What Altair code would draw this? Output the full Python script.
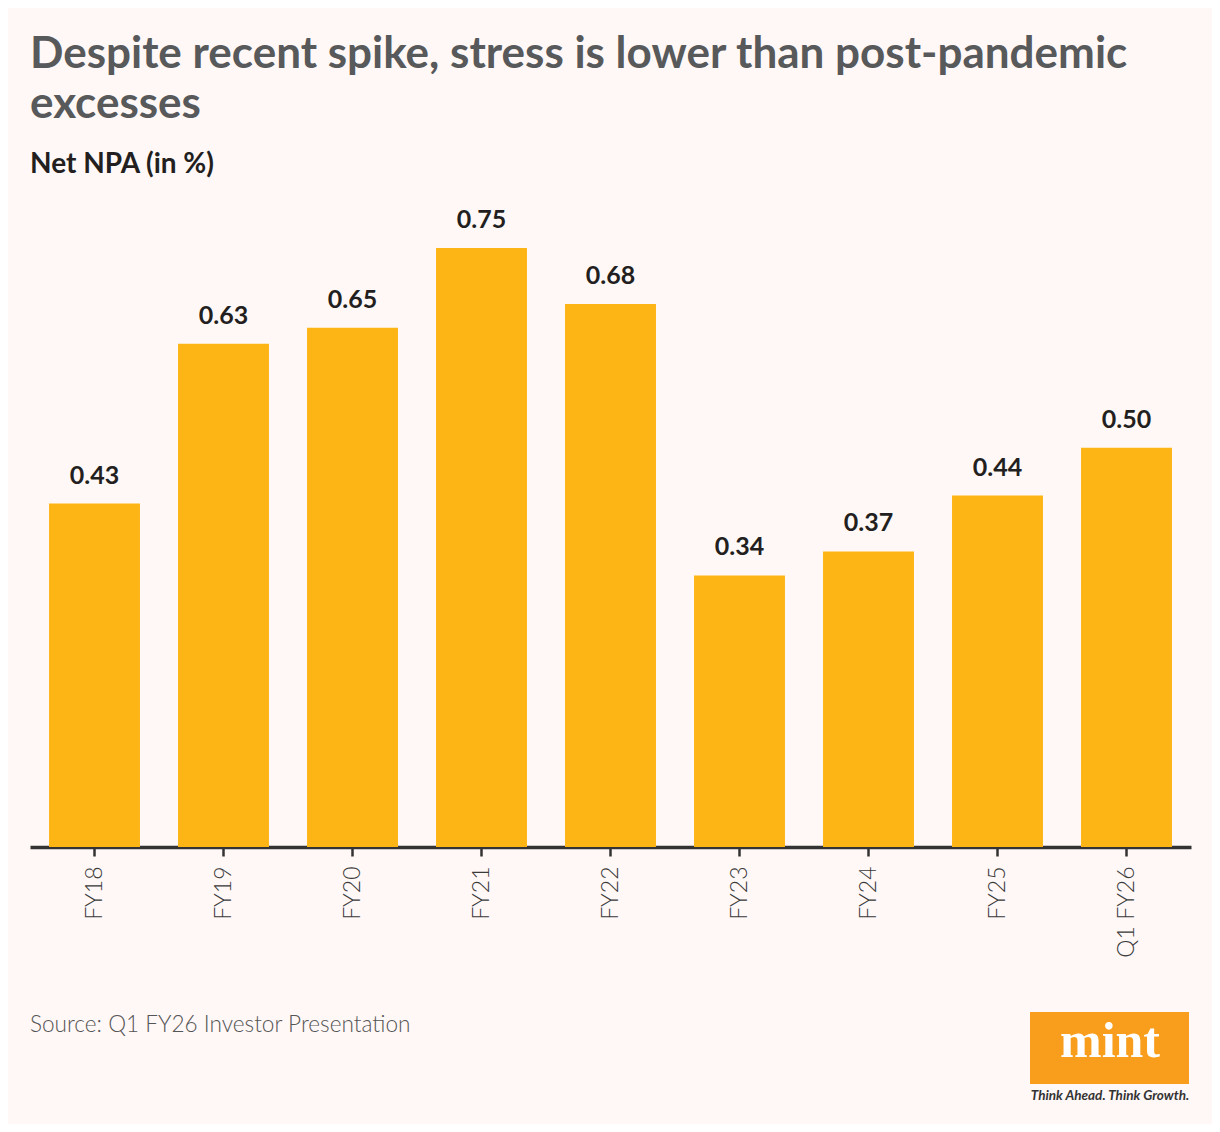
import altair as alt
import pandas as pd

categories = ["FY18", "FY19", "FY20", "FY21", "FY22", "FY23", "FY24", "FY25", "Q1 FY26"]
values = [0.43, 0.63, 0.65, 0.75, 0.68, 0.34, 0.37, 0.44, 0.50]

title_lines = ["Despite recent spike, stress is lower than post-pandemic", "excesses"]
subtitle = "Net NPA (in %)"
source = "Source: Q1 FY26 Investor Presentation"
logo_word = "mint"
logo_tag = "Think Ahead. Think Growth."

df = pd.DataFrame({"period": categories, "value": values})

BG = "#FFF8F7"
BAR = "#FDB515"
FONT = "Lato"

W, H = 1161, 599

xenc = alt.X(
    "period:N",
    sort=categories,
    title=None,
    scale=alt.Scale(paddingInner=0.295, paddingOuter=0.1475),
    axis=alt.Axis(
        labelAngle=270,
        labelAlign="right",
        labelBaseline="middle",
        labelPadding=10,
        labelFontSize=23,
        labelFont=FONT,
        labelFontWeight=300,
        labelColor="#3a3a3a",
        domainColor="#333333",
        domainWidth=3.5,
        tickColor="#333333",
        tickWidth=2.5,
        tickSize=9,
        grid=False,
    ),
)
yenc = alt.Y("value:Q", scale=alt.Scale(domain=[0, 0.75], nice=False, zero=True), axis=None)

base = alt.Chart(df)
bars = base.mark_bar(color=BAR).encode(x=xenc, y=yenc)
labels = base.mark_text(
    baseline="alphabetic", dy=-20, fontSize=25, fontWeight="bold", font=FONT, color="#231F20"
).encode(x=xenc, y=yenc, text=alt.Text("value:Q", format=".2f"))

deco = alt.Chart(pd.DataFrame({"a": [0]}))
src = deco.mark_text(
    align="left", baseline="alphabetic", fontSize=22.6, font=FONT, fontWeight=300, color="#555555"
).encode(x=alt.value(0), y=alt.value(784), text=alt.value(source))
logo_box = deco.mark_rect(color="#F99D1C").encode(
    x=alt.value(1000), x2=alt.value(1159), y=alt.value(764), y2=alt.value(836)
)
logo_text = deco.mark_text(
    align="center", baseline="alphabetic", fontSize=50, font="Liberation Serif", fontWeight="bold", color="white"
).encode(x=alt.value(1080), y=alt.value(809), text=alt.value(logo_word))
logo_tagline = deco.mark_text(
    align="center", baseline="middle", fontSize=13.5, font=FONT, fontStyle="italic", fontWeight="bold", color="#333333"
).encode(x=alt.value(1080), y=alt.value(848), text=alt.value(logo_tag))

chart = (
    alt.layer(bars, labels, src, logo_box, logo_text, logo_tagline)
    .properties(
        width=W,
        height=H,
        background=BG,
        padding={"left": 22, "top": 240, "right": 21, "bottom": 277},
        autosize=alt.AutoSizeParams(type="none"),
        title=alt.TitleParams(
            text=title_lines,
            subtitle=subtitle,
            anchor="start",
            frame="group",
            font=FONT,
            fontSize=44,
            fontWeight="bold",
            color="#58595B",
            lineHeight=50,
            subtitleFont=FONT,
            subtitleFontSize=28,
            subtitleFontWeight="bold",
            subtitleColor="#231F20",
            subtitlePadding=24,
            offset=29,
        ),
    )
    .configure_view(stroke=None)
)

chart.save("out.html", embed_options={"renderer": "svg", "actions": False})
